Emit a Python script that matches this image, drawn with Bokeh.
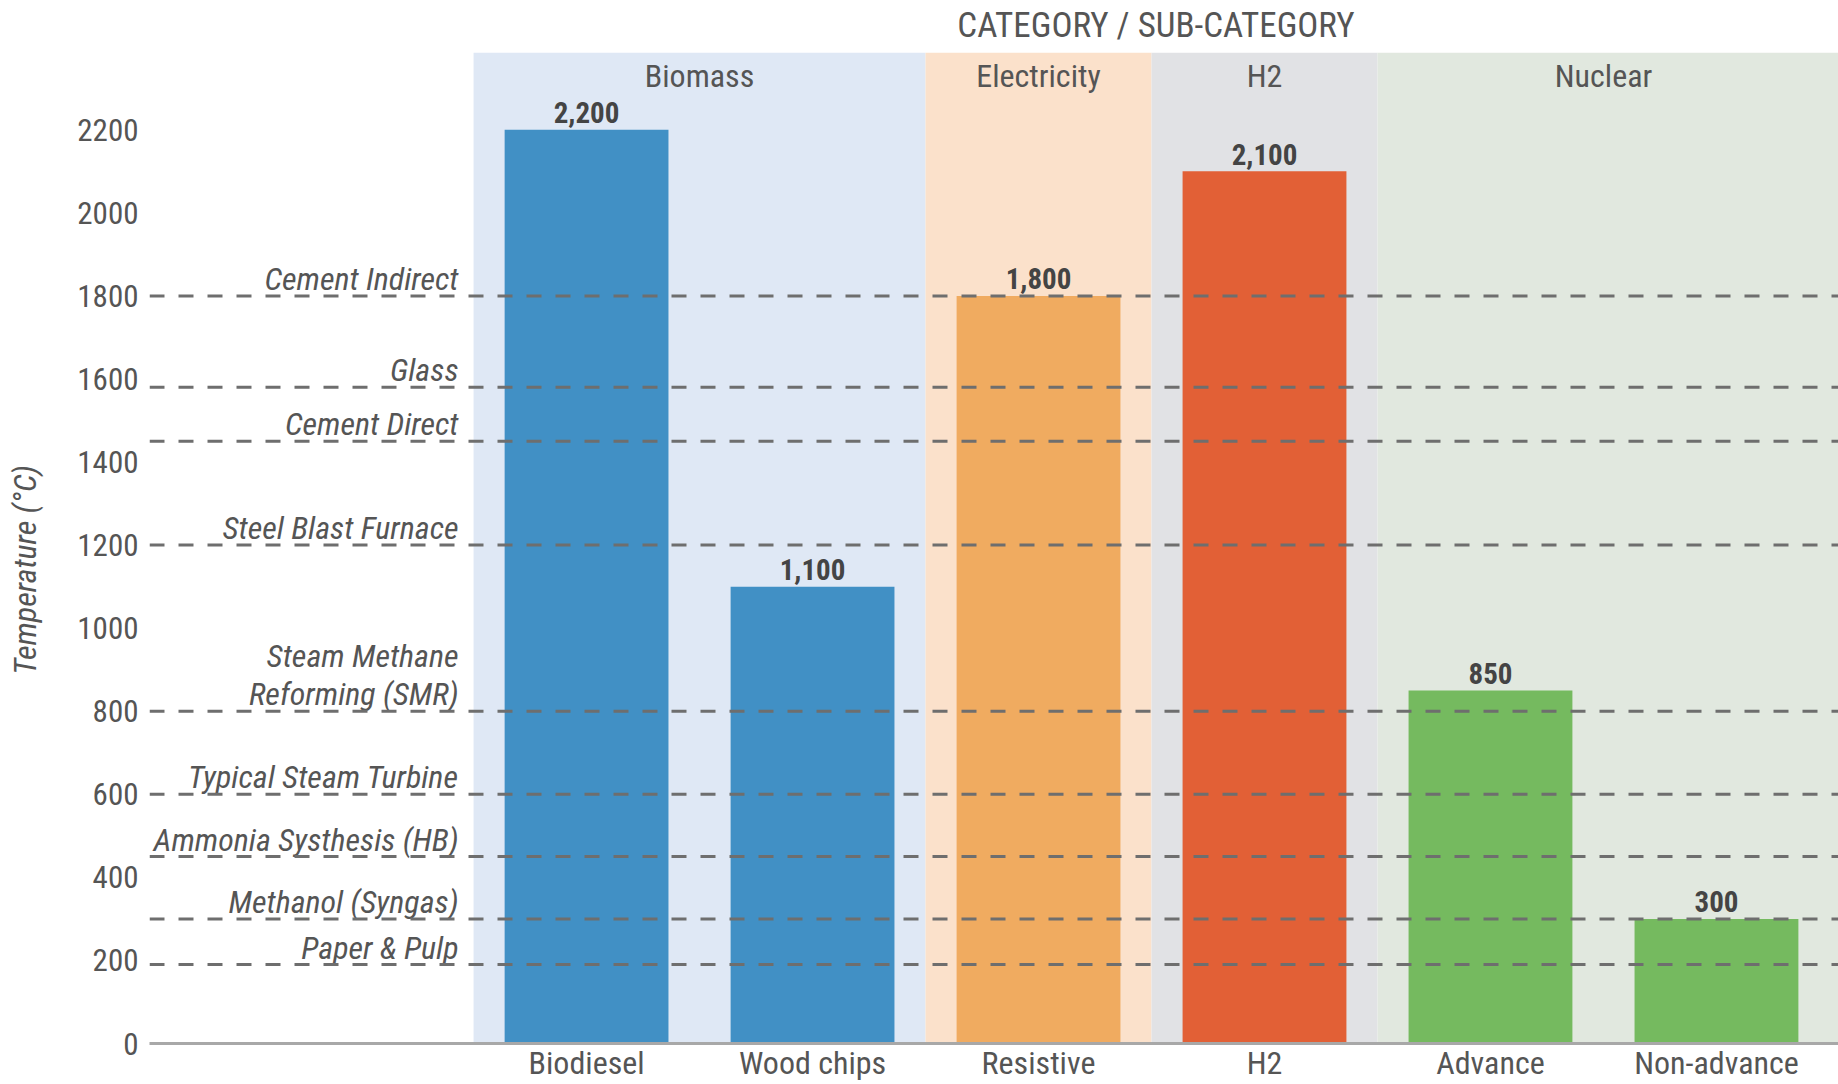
from bokeh.plotting import figure
from bokeh.models import Range1d, FixedTicker, Span, ColumnDataSource
from bokeh.core.properties import value
from bokeh.embed import file_html
from bokeh.resources import INLINE

# ---- data ----
categories = ["Biomass", "Electricity", "H2", "Nuclear"]
subcategories = ["Biodiesel", "Wood chips", "Resistive", "H2", "Advance", "Non-advance"]
sub_parent = ["Biomass", "Biomass", "Electricity", "H2", "Nuclear", "Nuclear"]
temperatures = [2200, 1100, 1800, 2100, 850, 300]

process_names = ["Cement Indirect", "Glass", "Cement Direct", "Steel Blast Furnace",
                 "Steam Methane\nReforming (SMR)", "Typical Steam Turbine",
                 "Ammonia Systhesis (HB)", "Methanol (Syngas)", "Paper & Pulp"]
process_temps = [1800, 1580, 1450, 1200, 800, 600, 450, 300, 190]

y_ticks = [0, 200, 400, 600, 800, 1000, 1200, 1400, 1600, 1800, 2000, 2200]

band_colors = {"Biomass": "#dfe8f5", "Electricity": "#fbe1cb", "H2": "#e1e2e5", "Nuclear": "#e1e8df"}
bar_colors = {"Biomass": "#4190c5", "Electricity": "#f0ab60", "H2": "#e26036", "Nuclear": "#75ba5f"}

FONT = "Roboto Condensed, Noto Sans Condensed, DejaVu Sans Condensed, Liberation Sans"
TXT = "#555555"

# ---- geometry from data ----
x_start, x_end = -1.434, 6.04
y_start, y_end = 0, 2386

sub_x = [i + 0.5 for i in range(len(subcategories))]
band_left, band_right = [], []
pos = 0
for c in categories:
    n = sub_parent.count(c)
    band_left.append(pos)
    pos += n
    band_right.append(pos)
band_right[-1] = x_end
band_center = [(l + min(r, len(subcategories))) / 2 for l, r in zip(band_left, band_right)]

p = figure(width=1838, height=1084, output_backend="svg", toolbar_location=None,
           x_range=Range1d(x_start, x_end), y_range=Range1d(y_start, y_end),
           min_border_left=149, min_border_right=0, min_border_top=52, min_border_bottom=39,
           title="CATEGORY / SUB-CATEGORY")
p.outline_line_color = None
p.grid.visible = False
p.background_fill_color = "white"
p.border_fill_color = "white"

p.title.align = "right"
p.title.offset = 484
p.title.standoff = 9
p.title.vertical_align = "top"
p.title.text_font = FONT
p.title.text_font_style = "normal"
p.title.text_font_size = "35px"
p.title.text_color = TXT

# category bands
p.quad(left=band_left, right=band_right, bottom=y_start, top=y_end,
       fill_color=[band_colors[c] for c in categories], line_color=None)

# bars
src = ColumnDataSource(dict(x=sub_x, top=temperatures,
                            color=[bar_colors[c] for c in sub_parent],
                            lab=[f"{v:,}" for v in temperatures]))
p.vbar(x="x", top="top", bottom=0, width=0.725, fill_color="color", line_color=None, source=src)

# value labels
p.text(x="x", y="top", text="lab", source=src, text_align="center", text_baseline="middle",
       y_offset=-17, text_font=value(FONT), text_font_style="bold", text_font_size="29px",
       text_color="#444444")

# category labels
p.text(x=band_center, y=[y_end] * len(categories), text=categories, text_align="center",
       text_baseline="middle", y_offset=23, text_font=value(FONT), text_font_size="32px",
       text_color=TXT)

# process threshold lines
for t in process_temps:
    p.add_layout(Span(location=t, dimension="width", line_color="#6e6e6e", line_width=3,
                      line_dash="15 14"))

p.text(x=[0] * len(process_names), y=process_temps, text=process_names, text_align="right",
       text_baseline="bottom", x_offset=-15, y_offset=2, text_line_height=1.0,
       text_font=value(FONT), text_font_style="italic", text_font_size="32px", text_color=TXT)

# axes
p.xaxis.ticker = FixedTicker(ticks=sub_x)
p.xaxis.major_label_overrides = {x: s for x, s in zip(sub_x, subcategories)}
p.xaxis.axis_line_color = "#a8a8a8"
p.xaxis.axis_line_width = 3
p.xaxis.major_tick_line_color = None
p.xaxis.minor_tick_line_color = None
p.xaxis.major_tick_out = 0
p.xaxis.major_tick_in = 0
p.xaxis.major_label_standoff = 0
p.xaxis.major_label_text_font = FONT
p.xaxis.major_label_text_font_size = "32px"
p.xaxis.major_label_text_color = TXT

p.yaxis.ticker = FixedTicker(ticks=y_ticks)
p.yaxis.axis_line_color = None
p.yaxis.major_tick_line_color = None
p.yaxis.minor_tick_line_color = None
p.yaxis.major_tick_out = 0
p.yaxis.major_tick_in = 0
p.yaxis.major_label_standoff = 11
p.yaxis.major_label_text_font = FONT
p.yaxis.major_label_text_font_size = "31px"
p.yaxis.major_label_text_color = TXT
p.yaxis.axis_label = "Temperature (°C)" + "\u00a0" * 6
p.yaxis.axis_label_standoff = 30
p.yaxis.axis_label_text_font = FONT
p.yaxis.axis_label_text_font_style = "italic"
p.yaxis.axis_label_text_font_size = "32px"
p.yaxis.axis_label_text_color = TXT

open("out.html", "w").write(file_html(p, INLINE))
